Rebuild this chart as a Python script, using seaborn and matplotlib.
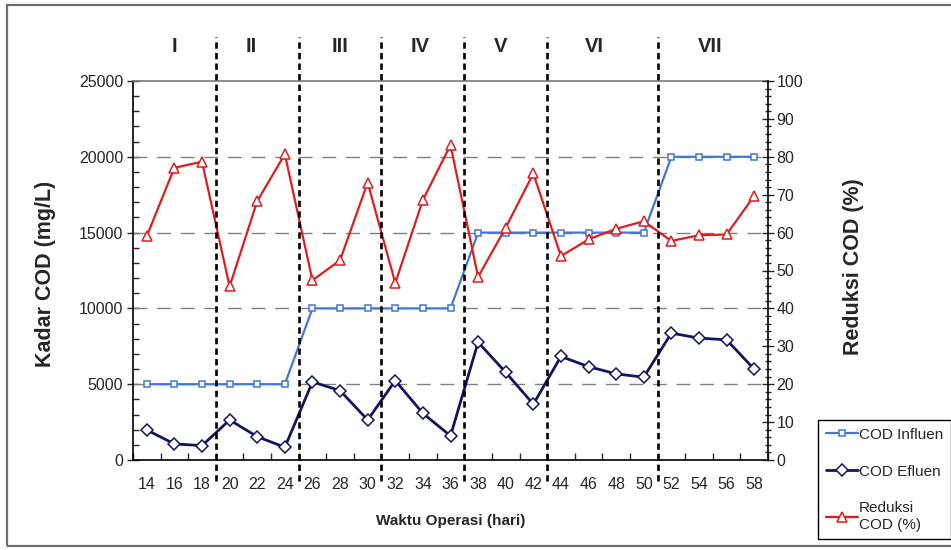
"""
Kadar COD influen / efluen dan reduksi COD selama waktu operasi
"""

import numpy as np
import pandas as pd
import matplotlib
matplotlib.use("Agg")
import matplotlib.pyplot as plt
import matplotlib.patches as patches
from matplotlib.ticker import MultipleLocator
import seaborn as sns

# 1. Datos
hari = [14, 16, 18, 20, 22, 24, 26, 28, 30, 32, 34, 36,
        38, 40, 42, 44, 46, 48, 50, 52, 54, 56, 58]
cod_influen = [5000, 5000, 5000, 5000, 5000, 5000,
               10000, 10000, 10000, 10000, 10000, 10000,
               15000, 15000, 15000, 15000, 15000, 15000, 15000,
               20000, 20000, 20000, 20000]
cod_efluen = [1980, 1060, 950, 2640, 1540, 840,
              5150, 4580, 2640, 5240, 3080, 1590,
              7770, 5780, 3680, 6830, 6160, 5680, 5460,
              8370, 8040, 7930, 5990]
reduksi = [59.1, 77.1, 78.7, 45.8, 68.3, 80.7,
           47.4, 52.7, 73.2, 46.7, 68.6, 83.1,
           48.3, 61.3, 75.6, 53.8, 58.2, 61.0, 63.0,
           57.8, 59.3, 59.5, 69.7]

# fases de operacion
fase = ["I", "II", "III", "IV", "V", "VI", "VII"]
fase_pos = [16, 21.6, 28, 33.8, 39.6, 46.4, 54.8]
batas_fase = [19, 25, 31, 37, 43, 51]

df = pd.DataFrame({"hari": hari, "influen": cod_influen,
                   "efluen": cod_efluen, "reduksi": reduksi})

# 2. Estilo
sns.set_style("ticks")
plt.rcParams["font.family"] = ["Liberation Sans", "DejaVu Sans"]

BIRU = "#4277d6"
NAVY = "#15145f"
MERAH = "#dc1e1e"

fig = plt.figure(figsize=(9.51, 5.5), dpi=100)
ax = fig.add_axes([133 / 951, 90 / 550, 635 / 951, 379 / 550])
ax2 = ax.twinx()

# 3. Lineas
sns.lineplot(data=df, x="hari", y="influen", ax=ax, color=BIRU, lw=1.6,
             marker="s", ms=4.6, mfc="white", mec=BIRU, mew=1.1,
             errorbar=None, label="COD Influen", zorder=3)
sns.lineplot(data=df, x="hari", y="efluen", ax=ax, color=NAVY, lw=2.0,
             marker="D", ms=6.2, mfc="white", mec=NAVY, mew=1.1,
             errorbar=None, label="COD Efluen", zorder=3)
sns.lineplot(data=df, x="hari", y="reduksi", ax=ax2, color=MERAH, lw=1.6,
             marker="^", ms=7.5, mfc="white", mec=MERAH, mew=1.1,
             errorbar=None, label="Reduksi\nCOD (%)", zorder=3)

for a in (ax, ax2):
    if a.get_legend() is not None:
        a.get_legend().remove()

# 4. Ejes
ax.set_xlim(hari[0] - 1, hari[-1] + 1)
ax.set_ylim(0, 25000)
ax2.set_ylim(0, 100)

ax.set_xticks(hari)
ax.set_xticklabels([str(h) for h in hari])
ax.set_xticks(np.arange(hari[0] - 1, hari[-1] + 2, 2), minor=True)
ax.tick_params(axis="x", which="major", length=0, pad=12, labelsize=11.5)
ax.tick_params(axis="x", which="minor", length=5, direction="in", width=1)

ax.yaxis.set_major_locator(MultipleLocator(5000))
ax.yaxis.set_minor_locator(MultipleLocator(1000))
ax.tick_params(axis="y", which="major", direction="inout", length=8, width=1,
               pad=3, labelsize=11.5)
ax.tick_params(axis="y", which="minor", direction="in", length=4, width=1)

ax2.yaxis.set_major_locator(MultipleLocator(10))
ax2.yaxis.set_minor_locator(MultipleLocator(2))
ax2.tick_params(axis="y", which="major", direction="inout", length=8, width=1,
                pad=2, labelsize=11.5)
ax2.tick_params(axis="y", which="minor", direction="inout", length=5, width=1)

# rejilla horizontal discontinua
for v in [5000, 10000, 15000, 20000]:
    ax.axhline(v, color="#808080", lw=1.0, dashes=(10, 7), zorder=1)

for s in ["left", "bottom"]:
    ax.spines[s].set_color("black")
    ax.spines[s].set_linewidth(1.2)
ax.spines["top"].set_color("#7a7a7a")
ax.spines["top"].set_linewidth(1.2)
ax.spines["right"].set_visible(False)
for s in ["left", "top", "bottom"]:
    ax2.spines[s].set_visible(False)
ax2.spines["right"].set_color("black")
ax2.spines["right"].set_linewidth(1.2)

ax.set_xlabel("Waktu Operasi (hari)", fontsize=11, fontweight="bold")
ax.xaxis.set_label_coords(0.5, -0.143)
ax.set_ylabel("Kadar COD (mg/L)", fontsize=15.5, fontweight="bold")
ax.yaxis.set_label_coords(-0.122, 0.49)
ax2.set_ylabel("Reduksi COD (%)", fontsize=15.5, fontweight="bold")
ax2.yaxis.set_label_coords(1.118, 0.51)

# 5. Lineas verticales de fases y numeros romanos
for b in batas_fase:
    ax2.axvline(b, ymin=-0.055, ymax=1.115, color="black", lw=1.9,
                dashes=(2.4, 1.6), clip_on=False, zorder=4)

trans = ax2.get_xaxis_transform()
for nama, pos in zip(fase, fase_pos):
    ax2.text(pos, 1.09, nama, transform=trans, ha="center", va="center",
             fontsize=14.5, fontweight="bold")

# 6. Leyenda
h1, l1 = ax.get_legend_handles_labels()
h2, l2 = ax2.get_legend_handles_labels()
leg = fig.legend(h1 + h2, l1 + l2, loc="upper left",
                 bbox_to_anchor=(818 / 951, 1 - 420 / 550),
                 fontsize=11, frameon=True, fancybox=False, framealpha=1,
                 edgecolor="black", handlelength=2.1, handletextpad=0.1,
                 labelspacing=1.5, borderpad=0.5, borderaxespad=0)
leg.get_frame().set_linewidth(1.0)

# marco exterior de la figura
fig.patches.append(patches.Rectangle((7 / 951, 4 / 550), 1.0, 541 / 550,
                                     transform=fig.transFigure, fill=False,
                                     edgecolor="#6e6e6e", lw=1.6))

fig.savefig("out.png", dpi=100)
